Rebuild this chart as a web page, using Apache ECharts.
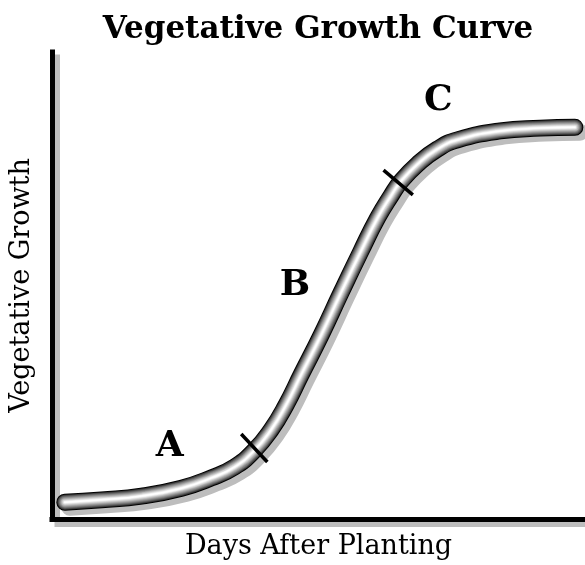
<!DOCTYPE html>
<html lang="en">
<head>
    <meta charset="utf-8"/>
    <title>Vegetative Growth Curve</title>
    <script src="https://cdn.jsdelivr.net/npm/echarts@6/dist/echarts.min.js"></script>
    <style>
        html, body {
            height: 100%;
            margin: 0;
            background: #fff;
        }

        .chart {
            width: 585px;
            height: 565px;
        }
    </style>
</head>
<body>
<div class="chart"></div>
<script>
    // growth curve (days 0-100, growth 0-100)
    const curve_days = [2.4, 9.3, 16.8, 24.3, 29.9, 34.2, 37.9, 41.1, 43.9, 46.7, 50.5,
        54.2, 57.9, 61.1, 63.6, 65.4, 68.6, 72.3, 76.1, 84.1, 91.6, 98.1];
    const curve_growth = [3.6, 4.1, 4.9, 6.6, 8.8, 11.1, 14.6, 19.1, 24.4, 30.8, 39.4,
        48.4, 57.2, 64.5, 69.2, 72.2, 76.0, 79.2, 81.2, 83.1, 83.7, 83.9];

    // short marks between the phases
    const tick_a_b = [[35.5, 18.2], [40.4, 12.2]];
    const tick_b_c = [[62.2, 74.7], [67.7, 69.4]];

    // phase letters
    const phase_names = ["A", "B", "C"];
    const phase_days = [22.1, 45.6, 72.5];
    const phase_growth = [15.4, 50.0, 89.5];

    const curve = curve_days.map((d, i) => [d, curve_growth[i]]);

    // tube look: black rim fading to a white centre
    const tube = [
        {width: 17, color: "#000000", shadow: true},
        {width: 15, color: "#3a3a3a"},
        {width: 13, color: "#5f5f5f"},
        {width: 11, color: "#808080"},
        {width: 9, color: "#9e9e9e"},
        {width: 7, color: "#bcbcbc"},
        {width: 5, color: "#d9d9d9"},
        {width: 3, color: "#f3f3f3"},
        {width: 1.5, color: "#ffffff"}
    ];

    const series = tube.map((t, i) => ({
        type: "line",
        data: curve,
        smooth: 0.5,
        symbol: "none",
        silent: true,
        z: 2 + i,
        lineStyle: Object.assign({
            width: t.width,
            color: t.color,
            cap: "round",
            join: "round"
        }, t.shadow ? {
            shadowColor: "#bdbdbd",
            shadowBlur: 0,
            shadowOffsetX: 5,
            shadowOffsetY: 5
        } : {})
    }));

    [tick_a_b, tick_b_c].forEach(t => {
        series.push({
            type: "line",
            data: t,
            symbol: "none",
            silent: true,
            z: 20,
            lineStyle: {width: 3.5, color: "#000", cap: "butt"}
        });
    });

    series.push({
        type: "scatter",
        symbolSize: 0,
        z: 21,
        itemStyle: {opacity: 1},
        data: phase_names.map((n, i) => ({name: n, value: [phase_days[i], phase_growth[i]]})),
        label: {
            show: true,
            position: "inside",
            formatter: "{b}",
            fontFamily: "DejaVu Serif",
            fontWeight: "bold",
            fontSize: 36,
            color: "#000"
        }
    });

    const axis_line = {
        show: true,
        lineStyle: {
            color: "#000",
            width: 5,
            cap: "square",
            shadowColor: "#bdbdbd",
            shadowBlur: 0,
            shadowOffsetX: 5,
            shadowOffsetY: 5
        }
    };

    const chart = echarts.init(document.querySelector(".chart"), null, {renderer: "canvas"});
    chart.setOption({
        animation: false,
        backgroundColor: "#fff",
        title: {
            text: "Vegetative Growth Curve",
            left: 313,
            top: 9,
            textAlign: "center",
            textStyle: {
                fontFamily: "DejaVu Serif",
                fontWeight: "bold",
                fontSize: 31,
                color: "#000"
            }
        },
        grid: {left: 50, right: 0, top: 52, bottom: 46},
        xAxis: {
            type: "value",
            min: 0,
            max: 100,
            name: "Days After Planting",
            nameLocation: "middle",
            nameGap: 14,
            nameTextStyle: {fontFamily: "DejaVu Serif", fontSize: 27, color: "#000"},
            axisLine: axis_line,
            axisTick: {show: false},
            axisLabel: {show: false},
            splitLine: {show: false}
        },
        yAxis: {
            type: "value",
            min: 0,
            max: 100,
            name: "Vegetative Growth",
            nameLocation: "middle",
            nameGap: 17,
            nameTextStyle: {fontFamily: "DejaVu Serif", fontSize: 27, color: "#000"},
            axisLine: axis_line,
            axisTick: {show: false},
            axisLabel: {show: false},
            splitLine: {show: false}
        },
        series: series
    });
</script>
</body>
</html>
